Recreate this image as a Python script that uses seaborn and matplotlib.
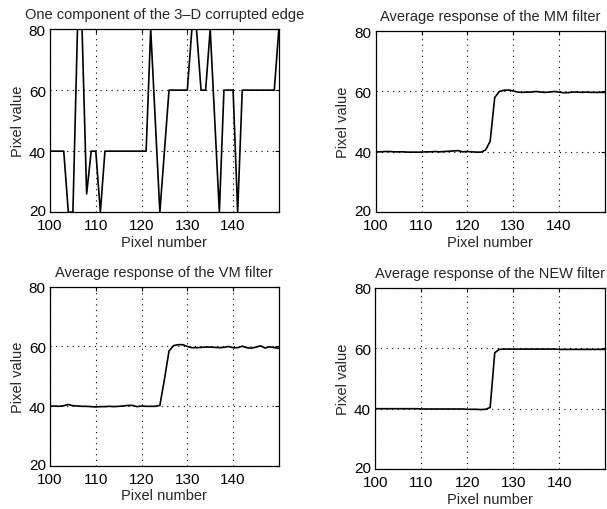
import matplotlib
matplotlib.use("Agg")
import matplotlib.pyplot as plt
import matplotlib.transforms as mtransforms
import numpy as np
import pandas as pd
import seaborn as sns

# Pixel positions along the edge profile
pixels = list(range(100, 151))

# One component of the 3-D corrupted edge (impulsive noise on a 40 -> 60 step)
corrupted = [
    40, 40, 40, 40, 20, 20, 80, 80, 26, 40,
    40, 20, 40, 40, 40, 40, 40, 40, 40, 40,
    40, 40, 80, 50, 20, 40, 60, 60, 60, 60,
    60, 80, 80, 60, 60, 80, 50, 20, 60, 60,
    60, 20, 60, 60, 60, 60, 60, 60, 60, 60,
    80,
]

# Average responses of the filters
mm_filter = [
    40.0, 40.0, 40.1, 40.1, 40.0, 40.0, 40.0, 39.9, 39.9, 39.9,
    39.9, 40.0, 40.0, 40.1, 40.0, 40.1, 40.2, 40.3, 40.4, 40.0,
    40.1, 40.0, 39.9, 39.9, 40.6, 43.5, 58.0, 60.0, 60.4, 60.5,
    60.2, 59.8, 59.7, 59.8, 59.8, 60.0, 59.8, 59.7, 59.8, 60.0,
    59.8, 59.6, 59.6, 59.8, 59.8, 59.7, 59.8, 59.7, 59.7, 59.7,
    59.7,
]
vm_filter = [
    40.0, 40.1, 40.0, 40.2, 40.6, 40.2, 40.1, 40.0, 40.0, 39.9,
    39.8, 39.9, 39.9, 40.0, 39.9, 40.0, 40.1, 40.3, 40.3, 39.9,
    40.1, 40.0, 40.0, 40.0, 40.3, 49.0, 58.5, 60.3, 60.6, 60.6,
    60.0, 59.6, 59.6, 59.7, 59.8, 59.8, 59.7, 59.6, 59.7, 60.0,
    59.6, 59.6, 60.1, 59.6, 59.4, 59.8, 60.2, 59.5, 59.9, 59.6,
    59.4,
]
new_filter = [
    40.0, 40.0, 40.0, 40.0, 40.0, 40.0, 40.0, 40.0, 40.0, 40.0,
    39.9, 39.9, 39.9, 39.9, 39.9, 39.9, 39.9, 39.9, 39.9, 39.9,
    39.8, 39.8, 39.8, 39.7, 39.8, 40.4, 58.5, 59.6, 59.7, 59.7,
    59.7, 59.7, 59.7, 59.7, 59.7, 59.7, 59.7, 59.7, 59.7, 59.7,
    59.6, 59.6, 59.6, 59.6, 59.6, 59.6, 59.6, 59.6, 59.6, 59.6,
    59.6,
]

titles = [
    "One component of the 3\u2013D corrupted edge",
    "Average response of the MM filter",
    "Average response of the VM filter",
    "Average response of the NEW filter",
]
x_ticks = [100, 110, 120, 130, 140]
y_ticks = [20, 40, 60, 80]

sns.set_style("white")
plt.rcParams["font.family"] = ["Liberation Sans", "DejaVu Sans"]
plt.rcParams["font.size"] = 10.5

fig = plt.figure(figsize=(6.07, 5.10), dpi=100)

# axes rectangles in figure fractions: left, bottom, width, height
positions = [
    (0.0824, 0.582, 0.377, 0.359),
    (0.619, 0.582, 0.377, 0.355),
    (0.0824, 0.084, 0.377, 0.352),
    (0.618, 0.078, 0.379, 0.356),
]

series = [corrupted, mm_filter, vm_filter, new_filter]

for pos, values, title in zip(positions, series, titles):
    ax = fig.add_axes(pos)
    df = pd.DataFrame({"pixel": pixels, "value": values})
    sns.lineplot(data=df, x="pixel", y="value", ax=ax, color="black", linewidth=1.2)

    ax.set_xlim(100, 150)
    ax.set_ylim(20, 80)
    ax.set_xticks(x_ticks)
    ax.set_yticks(y_ticks)
    ax.grid(True, color="black", linestyle=(0, (1, 4)), linewidth=0.8)
    for spine in ax.spines.values():
        spine.set_color("black")
        spine.set_linewidth(0.9)
    ax.tick_params(direction="in", length=3, width=0.8, top=True, right=True,
                   labelsize=11, colors="black")
    ax.tick_params(axis="x", pad=4)
    ax.tick_params(axis="y", pad=3)
    ax.set_xlabel("Pixel number", fontsize=10.5, labelpad=2)
    ax.set_ylabel("Pixel value", fontsize=10.5, labelpad=3)
    ax.set_title(title, fontsize=10.5, pad=8)

    # lift the bottom y label a touch so it clears the "100" below it
    fig.canvas.draw()
    lowest = ax.get_yticklabels()[0]
    lowest.set_transform(lowest.get_transform()
                         + mtransforms.ScaledTranslation(0, 3 / 100, fig.dpi_scale_trans))

fig.savefig("out.png", dpi=100)
